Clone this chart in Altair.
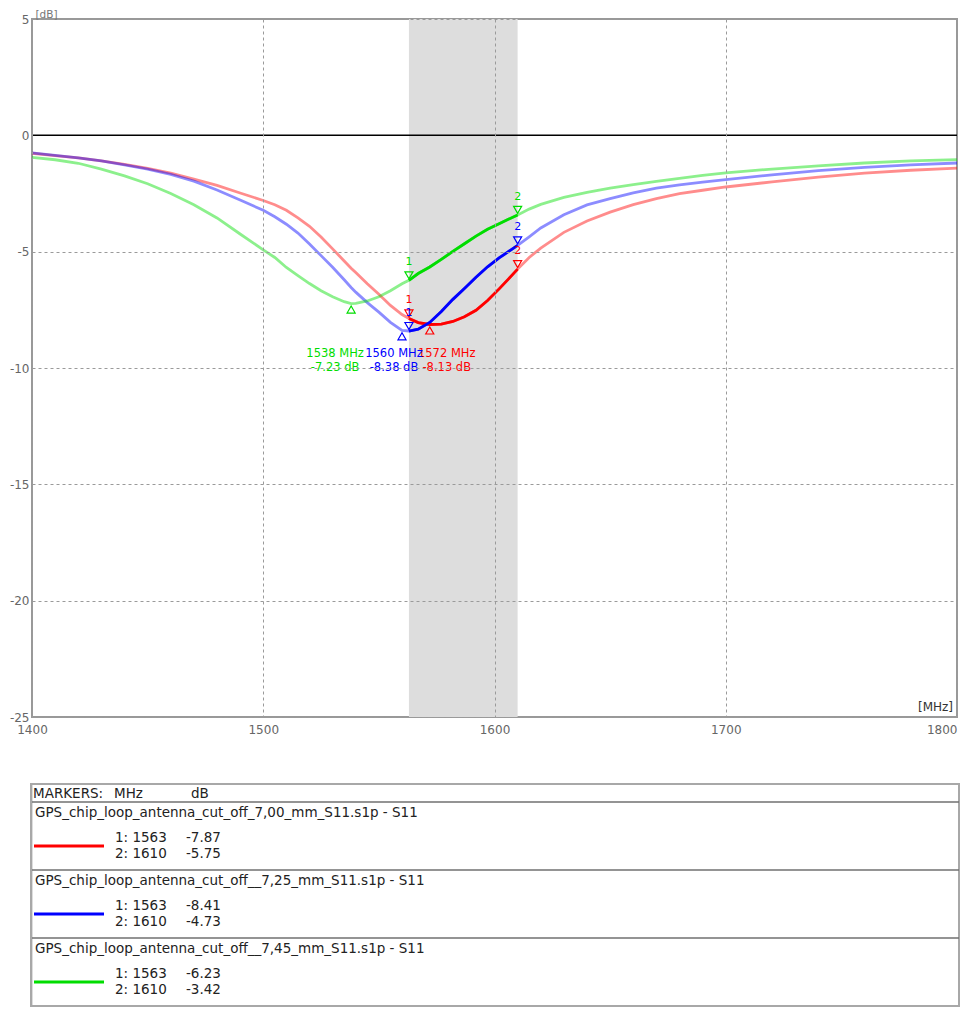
import altair as alt
import pandas as pd

FONT = "DejaVu Sans"

# ---------------- data ----------------
freq = [1400, 1410, 1420, 1430, 1440, 1450, 1460, 1470, 1480, 1490,
        1500, 1505, 1510, 1515, 1520, 1525, 1530, 1535, 1538, 1540,
        1545, 1550, 1555, 1560, 1563, 1567, 1572, 1577, 1582, 1587,
        1592, 1597, 1602, 1606, 1610, 1615, 1620, 1630, 1640, 1650,
        1660, 1670, 1680, 1690, 1700, 1720, 1740, 1760, 1780, 1800]

s11_7_00 = [-0.77, -0.87, -0.97, -1.10, -1.25, -1.42, -1.62, -1.88, -2.15, -2.48,
            -2.80, -2.98, -3.22, -3.55, -3.91, -4.37, -4.88, -5.40, -5.71, -5.90,
            -6.38, -6.83, -7.31, -7.70, -7.87, -8.05, -8.13, -8.11, -8.00, -7.80,
            -7.52, -7.10, -6.60, -6.18, -5.75, -5.25, -4.85, -4.17, -3.68, -3.30,
            -2.98, -2.72, -2.51, -2.36, -2.22, -2.00, -1.80, -1.62, -1.50, -1.41]

s11_7_25 = [-0.75, -0.86, -0.97, -1.10, -1.27, -1.45, -1.68, -1.97, -2.35, -2.78,
            -3.22, -3.50, -3.82, -4.20, -4.67, -5.17, -5.67, -6.21, -6.54, -6.74,
            -7.19, -7.60, -8.04, -8.38, -8.41, -8.33, -8.04, -7.57, -7.05, -6.58,
            -6.10, -5.65, -5.27, -5.00, -4.73, -4.36, -3.98, -3.41, -2.99, -2.72,
            -2.47, -2.27, -2.13, -2.01, -1.90, -1.70, -1.52, -1.38, -1.27, -1.19]

s11_7_45 = [-0.95, -1.05, -1.20, -1.45, -1.74, -2.08, -2.50, -2.98, -3.55, -4.24,
            -4.92, -5.25, -5.68, -6.03, -6.37, -6.68, -6.94, -7.15, -7.23, -7.22,
            -7.12, -6.94, -6.68, -6.38, -6.23, -5.94, -5.66, -5.33, -4.99, -4.66,
            -4.33, -4.04, -3.80, -3.61, -3.42, -3.17, -2.97, -2.67, -2.45, -2.27,
            -2.12, -1.98, -1.85, -1.72, -1.61, -1.45, -1.31, -1.19, -1.10, -1.04]

series_names = [
    "GPS_chip_loop_antenna_cut_off_7,00_mm_S11.s1p - S11",
    "GPS_chip_loop_antenna_cut_off__7,25_mm_S11.s1p - S11",
    "GPS_chip_loop_antenna_cut_off__7,45_mm_S11.s1p - S11",
]
series_colors = ["#ff0000", "#0000ff", "#00dd00"]

marker_ids = [1, 2]
marker_freq = [1563, 1610]
marker_db = [[-7.87, -5.75], [-8.41, -4.73], [-6.23, -3.42]]

min_freq = [1572, 1560, 1538]
min_db = [-8.13, -8.38, -7.23]

x_ticks = [1400, 1500, 1600, 1700, 1800]
y_ticks = [-25, -20, -15, -10, -5, 0, 5]

# ---------------- styles ----------------
min_label_dx = [17, -8, -16]
W, H = 925, 698
TW, TH = 927, 222
HEAD, SEC = 18, 68

xscale = alt.Scale(domain=[1400, 1800], nice=False, zero=False)
yscale = alt.Scale(domain=[-25, 5], nice=False, zero=False)
xaxis = alt.Axis(values=x_ticks, labelPadding=7, grid=True, gridDash=[3, 3],
                 gridColor="#9a9a9a", gridWidth=1, ticks=False, domain=False,
                 labelColor="#666666", labelFont=FONT, labelFontSize=12,
                 labelFlush=False, zindex=1, title=None,
                 labelExpr="'' + datum.value",
                 labelAlign=alt.expr("datum.value == 1800 ? 'right' : 'center'"))
yaxis = alt.Axis(values=y_ticks, labelPadding=3, grid=True, gridDash=[3, 3],
                 gridColor="#9a9a9a", gridWidth=1, ticks=False, domain=False,
                 gridOpacity=alt.expr("datum.value == 0 ? 0 : 1"),
                 labelColor="#666666", labelFont=FONT, labelFontSize=12,
                 labelFlush=False, zindex=1, labelExpr="'' + datum.value",
                 title="[dB]", titleAngle=0, titleAlign="left", titleBaseline="bottom",
                 titleX=3, titleY=0, titleFont=FONT, titleFontSize=10.5,
                 titleFontWeight="normal", titleColor="#777777")


def X(field):
    return alt.X(field, type="quantitative", scale=xscale, axis=xaxis, title=None)


def Y(field):
    return alt.Y(field, type="quantitative", scale=yscale, axis=yaxis)


color_enc = alt.Color("series:N", scale=alt.Scale(domain=series_names, range=series_colors),
                      legend=None)

# ---------------- tables ----------------
curves = [s11_7_00, s11_7_25, s11_7_45]
line_df = pd.DataFrame([
    {"freq": f, "db": v, "series": n, "order": i}
    for n, c in zip(series_names, curves)
    for i, (f, v) in enumerate(zip(freq, c))
])

band_lo, band_hi = marker_freq[0], marker_freq[1]
band_df = pd.DataFrame({"lo": [band_lo], "hi": [band_hi]})
zero_df = pd.DataFrame({"db": [0]})

mk_df = pd.DataFrame([
    {"freq": f, "db": marker_db[s][k], "series": series_names[s], "id": str(marker_ids[k])}
    for s in range(3) for k, f in enumerate(marker_freq)
])

label_db = min(min_db) - 1.0

# ---------------- main chart ----------------
band = alt.Chart(band_df).mark_rect(color="#dddddd").encode(x=X("lo"), x2="hi")
zero = alt.Chart(zero_df).mark_rule(color="#000000", strokeWidth=1.5).encode(y=Y("db"))

base = alt.Chart(line_df).encode(x=X("freq"), y=Y("db"), color=color_enc,
                                 order=alt.Order("order:Q"))
full_lines = base.mark_line(strokeWidth=2.8, opacity=0.45)
band_lines = base.transform_filter(
    (alt.datum.freq >= band_lo) & (alt.datum.freq <= band_hi)
).mark_line(strokeWidth=2.8)

mk_base = alt.Chart(mk_df).encode(x=X("freq"), y=Y("db"), color=color_enc)
mk_tri = mk_base.mark_point(shape="triangle-down", filled=False, size=65,
                            strokeWidth=1.2, yOffset=-5, opacity=1)
mk_txt = mk_base.mark_text(dy=-18, font=FONT, fontSize=11).encode(text="id:N")

layers = [band, zero, full_lines, band_lines, mk_tri, mk_txt]

for s in range(3):
    mdf = pd.DataFrame({"freq": [min_freq[s]], "db": [min_db[s]],
                        "series": [series_names[s]], "lab_db": [label_db],
                        "l1": [f"{min_freq[s]} MHz"], "l2": [f"{min_db[s]:.2f} dB"]})
    mb = alt.Chart(mdf)
    layers.append(mb.mark_point(shape="triangle-up", filled=False, size=65, strokeWidth=1.2,
                                yOffset=6, opacity=1)
                  .encode(x=X("freq"), y=Y("db"), color=color_enc))
    layers.append(mb.mark_text(font=FONT, fontSize=11.5, dx=min_label_dx[s], baseline="middle")
                  .encode(x=X("freq"), y=Y("lab_db"), color=color_enc, text="l1:N"))
    layers.append(mb.mark_text(font=FONT, fontSize=11.5, dx=min_label_dx[s], dy=14,
                               baseline="middle")
                  .encode(x=X("freq"), y=Y("lab_db"), color=color_enc, text="l2:N"))

unit_df = pd.DataFrame({"freq": [1800], "db": [-25], "t": ["[MHz]"]})
layers.append(alt.Chart(unit_df).mark_text(font=FONT, fontSize=12, color="#333333",
                                           align="right", baseline="bottom", dx=-4, dy=-3)
              .encode(x=X("freq"), y=Y("db"), text="t:N"))

main = alt.layer(*layers, view=alt.ViewBackground(stroke="#999999", strokeWidth=2)).properties(
    width=W, height=H)

# ---------------- marker table ----------------
tx = alt.Scale(domain=[0, TW], nice=False, zero=False)
ty = alt.Scale(domain=[0, TH], nice=False, zero=False, reverse=True)

texts = [
    {"x": 1, "y": 10, "t": "MARKERS:"},
    {"x": 82, "y": 10, "t": "MHz"},
    {"x": 159, "y": 10, "t": "dB"},
]
samples = []
seps = [{"y": HEAD}]
for s in range(3):
    top = HEAD + SEC * s
    texts.append({"x": 3, "y": top + 11, "t": series_names[s]})
    for k in range(2):
        texts.append({"x": 83, "y": top + 36 + 16 * k, "t": f"{marker_ids[k]}: {marker_freq[k]}"})
        texts.append({"x": 154, "y": top + 36 + 16 * k, "t": f"{marker_db[s][k]:.2f}"})
    samples.append({"x": 2, "x2": 72, "y": top + 44, "series": series_names[s]})
    if s < 2:
        seps.append({"y": top + SEC})

text_df = pd.DataFrame(texts)
sample_df = pd.DataFrame(samples)
sep_df = pd.DataFrame(seps)
box_df = pd.DataFrame({"x": [-1], "x2": [TW], "y": [0], "y2": [TH]})

box = alt.Chart(box_df).mark_rect(filled=False, stroke="#a8a8a8", strokeWidth=2).encode(
    x=alt.X("x:Q", scale=tx, axis=None), x2="x2:Q",
    y=alt.Y("y:Q", scale=ty, axis=None), y2="y2:Q")
sep = alt.Chart(sep_df).mark_rule(color="#707070", strokeWidth=1.6).encode(
    y=alt.Y("y:Q", scale=ty, axis=None))
smp = alt.Chart(sample_df).mark_rule(strokeWidth=3.2).encode(
    x=alt.X("x:Q", scale=tx, axis=None), x2="x2:Q",
    y=alt.Y("y:Q", scale=ty, axis=None), color=color_enc)
txt = alt.Chart(text_df).mark_text(align="left", baseline="middle", font=FONT, fontSize=13.5,
                                   color="#222222").encode(
    x=alt.X("x:Q", scale=tx, axis=None), y=alt.Y("y:Q", scale=ty, axis=None), text="t:N")

table = alt.layer(box, sep, smp, txt).properties(width=TW, height=TH)

chart = alt.vconcat(main, table, spacing=46).properties(
    padding={"left": 0, "top": 0, "right": 0, "bottom": 0}
).configure_view(stroke="transparent").configure(background="#ffffff")

chart.save("out.html", embed_options={"renderer": "svg", "actions": False})
